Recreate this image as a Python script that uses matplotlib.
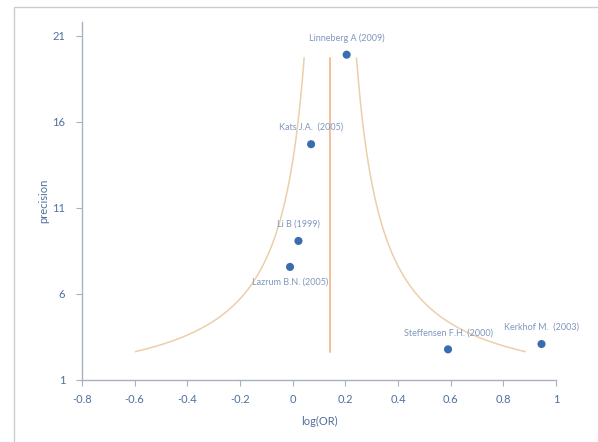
import numpy as np
import matplotlib
matplotlib.use("Agg")
import matplotlib.pyplot as plt
from matplotlib.patches import Rectangle

plt.rcParams["font.family"] = ["Lato", "DejaVu Sans"]

# ── data ──────────────────────────────────────────────────────────────────────
studies   = ["Linneberg A (2009)", "Kats J.A.  (2005)", "Li B (1999)",
             "Lazrum B.N. (2005)", "Steffensen F.H. (2000)", "Kerkhof M.  (2003)"]
log_or    = [0.205, 0.07, 0.022, -0.01, 0.59, 0.945]
precision = [19.9, 14.7, 9.08, 7.57, 2.78, 3.09]
label_below = [False, False, False, True, False, False]

pooled = 0.143                # pooled log(OR), vertical line
prec_range = (2.65, 19.7)     # span of the funnel
z = 1.96

# ── colours ───────────────────────────────────────────────────────────────────
DOT   = "#3a6db0"
CURVE = "#ebcfa9"
VLINE = "#f2ae78"
TXT   = "#4f6f9f"
SPINE = "#a9b1be"

fig = plt.figure(figsize=(5.98, 4.42), dpi=100)
fig.patches.append(Rectangle((14 / 598, -0.01), 1.0, 1 - 7 / 442 + 0.01,
                             transform=fig.transFigure, fill=False,
                             edgecolor="#c9cdd3", lw=1.0))
ax = fig.add_axes([82 / 598, 1 - 380 / 442, (556 - 82) / 598, (380 - 22) / 442])

# funnel
p = np.linspace(prec_range[0], prec_range[1], 300)
ax.plot(pooled - z / p, p, color=CURVE, lw=1.1, zorder=1)
ax.plot(pooled + z / p, p, color=CURVE, lw=1.1, zorder=1)
ax.plot([pooled, pooled], prec_range, color=VLINE, lw=1.1, zorder=1)

# studies
ax.scatter(log_or, precision, s=34, color=DOT, zorder=3, edgecolors="none")
for name, x, y, below in zip(studies, log_or, precision, label_below):
    off = -11 if below else 12
    ax.annotate(name, (x, y), xytext=(0, off), textcoords="offset points",
                ha="center", va="center", fontsize=6.5, color="#8098bd")

ax.set_xlim(-0.8, 1.0)
ax.set_ylim(1, 21.8)
ax.set_xticks(np.round(np.arange(-0.8, 1.01, 0.2), 1))
ax.set_xticklabels(["-0.8", "-0.6", "-0.4", "-0.2", "0", "0.2", "0.4", "0.6", "0.8", "1"])
ax.set_yticks([1, 6, 11, 16, 21])

for s in ["top", "right"]:
    ax.spines[s].set_visible(False)
for s in ["left", "bottom"]:
    ax.spines[s].set_color(SPINE)
    ax.spines[s].set_linewidth(1.0)
ax.tick_params(colors=SPINE, labelcolor=TXT, labelsize=8, length=4, width=0.8,
               direction="out")
ax.tick_params(axis="x", pad=6)
ax.tick_params(axis="y", pad=8)

ax.set_xlabel("log(OR)", fontsize=8, color=TXT, labelpad=8)
ax.set_ylabel("precision", fontsize=8, color=TXT, labelpad=2)

fig.savefig("out.png", dpi=100)
